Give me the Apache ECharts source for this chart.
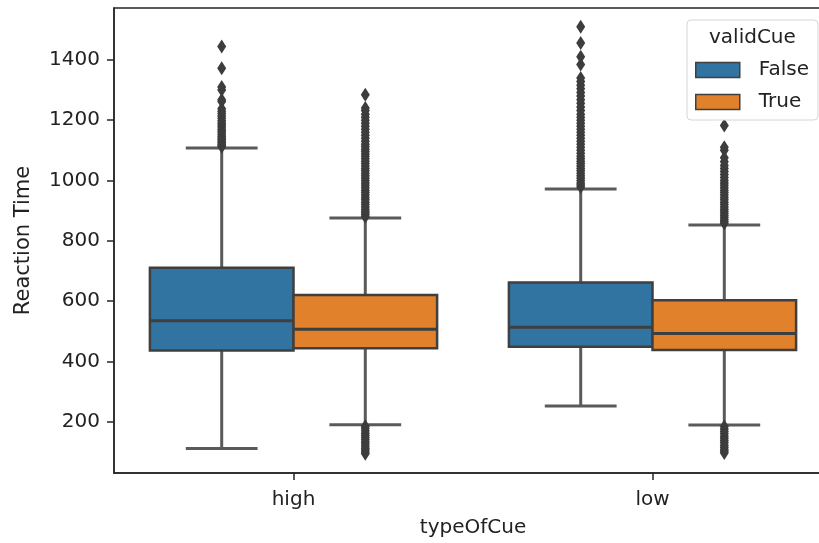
<!DOCTYPE html>
<html><head><meta charset="utf-8">
<script src="https://cdn.jsdelivr.net/npm/echarts@6/dist/echarts.min.js"></script>
<style>html,body{margin:0;padding:0;background:#fff}#c{width:819px;height:543px}</style>
</head><body><div id="c"></div>
<script>
const categories = ['high', 'low'];
const hueNames = ['False', 'True'];
const yTicks = [200, 400, 600, 800, 1000, 1200, 1400];
// [lower whisker, Q1, median, Q3, upper whisker] per category
const falseBoxes = [[111, 436, 535, 711, 1108], [252, 449, 513, 662, 972]];
const trueBoxes = [[190, 444, 507, 620, 876], [189, 438, 493, 603, 852]];
// outliers per category
const falseOutliers = [
  [1112, 1116, 1120, 1125, 1130, 1135, 1140, 1146, 1152, 1158, 1164, 1170, 1177, 1184, 1191, 1198, 1206, 1214, 1222, 1230, 1238, 1262, 1268, 1300, 1310, 1372, 1444],
  [978, 985, 992, 1000, 1008, 1016, 1024, 1032, 1040, 1048, 1056, 1064, 1072, 1080, 1090, 1100, 1110, 1120, 1130, 1140, 1150, 1160, 1170, 1180, 1190, 1200, 1210, 1220, 1232, 1244, 1256, 1268, 1280, 1292, 1304, 1316, 1328, 1340, 1385, 1410, 1456, 1510]
];
const trueOutliers = [
  [880, 886, 892, 898, 905, 912, 920, 928, 936, 944, 952, 960, 968, 976, 984, 992, 1000, 1008, 1016, 1024, 1032, 1040, 1048, 1056, 1064, 1072, 1080, 1088, 1096, 1104, 1112, 1120, 1130, 1140, 1150, 1160, 1170, 1180, 1190, 1200, 1210, 1220, 1232, 1240, 1284,
   185, 178, 170, 162, 155, 148, 140, 133, 126, 119, 112, 106, 100, 94],
  [858, 864, 870, 877, 884, 891, 898, 905, 912, 920, 928, 936, 944, 952, 960, 968, 976, 984, 992, 1000, 1010, 1020, 1030, 1040, 1050, 1062, 1075, 1100, 1110, 1182,
   184, 176, 168, 160, 152, 145, 138, 130, 122, 115, 108, 102, 96]
];

const COLORS = ['#3274a1', '#e1812c'];
const EDGE = '#3f3f3f';
const WHISK = '#5a5a5a';
const FONT = 'DejaVu Sans';
const TXT = '#222';
const GROUP_W = 0.8;
const BOX_W = GROUP_W / hueNames.length;
const hueOffset = h => -GROUP_W / 2 + BOX_W * (h + 0.5);

const boxSets = [falseBoxes, trueBoxes];
const outSets = [falseOutliers, trueOutliers];

function renderBox(params, api) {
  const x = api.value(0);
  const w = api.size([BOX_W, 0])[0];
  const pLw = api.coord([x, api.value(1)]);
  const pQ1 = api.coord([x, api.value(2)]);
  const pMed = api.coord([x, api.value(3)]);
  const pQ3 = api.coord([x, api.value(4)]);
  const pUw = api.coord([x, api.value(5)]);
  const cx = pMed[0];
  const fill = api.visual('color');
  const lw = 2.5, wl = 3;
  return {
    type: 'group',
    children: [
      { type: 'line', shape: { x1: cx, y1: pLw[1], x2: cx, y2: pQ1[1] }, style: { stroke: WHISK, lineWidth: wl } },
      { type: 'line', shape: { x1: cx, y1: pQ3[1], x2: cx, y2: pUw[1] }, style: { stroke: WHISK, lineWidth: wl } },
      { type: 'line', shape: { x1: cx - w / 4, y1: pLw[1], x2: cx + w / 4, y2: pLw[1] }, style: { stroke: WHISK, lineWidth: wl } },
      { type: 'line', shape: { x1: cx - w / 4, y1: pUw[1], x2: cx + w / 4, y2: pUw[1] }, style: { stroke: WHISK, lineWidth: wl } },
      { type: 'rect', shape: { x: cx - w / 2, y: pQ3[1], width: w, height: pQ1[1] - pQ3[1] }, style: { fill: fill, stroke: EDGE, lineWidth: lw } },
      { type: 'line', shape: { x1: cx - w / 2, y1: pMed[1], x2: cx + w / 2, y2: pMed[1] }, style: { stroke: EDGE, lineWidth: lw + 0.5 } }
    ]
  };
}

const series = [];
hueNames.forEach((name, h) => {
  series.push({
    name: name,
    type: 'custom',
    xAxisIndex: 1,
    yAxisIndex: 0,
    renderItem: renderBox,
    itemStyle: { color: COLORS[h], borderColor: EDGE, borderWidth: 1.5 },
    dimensions: ['x', 'lw', 'q1', 'med', 'q3', 'uw'],
    encode: { x: 0, y: [1, 2, 3, 4, 5] },
    data: boxSets[h].map((b, i) => [i + hueOffset(h)].concat(b)),
    z: 2
  });
});
hueNames.forEach((name, h) => {
  const pts = [];
  outSets[h].forEach((vals, i) => vals.forEach(v => pts.push([i + hueOffset(h), v])));
  series.push({
    name: name + ' outliers',
    type: 'scatter',
    xAxisIndex: 1,
    yAxisIndex: 0,
    symbol: 'diamond',
    symbolSize: [9, 14],
    itemStyle: { color: '#3d3d3d', opacity: 1 },
    data: pts,
    z: 3
  });
});

const chart = echarts.init(document.getElementById('c'), null, { renderer: 'canvas' });
chart.setOption({
  animation: false,
  backgroundColor: '#fff',
  textStyle: { fontFamily: FONT },
  grid: { left: 114, width: 718, top: 8, bottom: 70, outerBoundsMode: 'none', containLabel: false, show: true, borderColor: '#262626', borderWidth: 1.5, backgroundColor: 'transparent' },
  title: {
    text: 'validCue', left: 709, top: 28, padding: 0,
    textStyle: { fontFamily: FONT, fontSize: 20, fontWeight: 'normal', color: TXT }
  },
  legend: {
    orient: 'vertical', left: 687, top: 20,
    padding: [40, 9, 8, 8],
    backgroundColor: '#fff', borderColor: '#d6d6d6', borderWidth: 1, borderRadius: 4,
    itemWidth: 44, itemHeight: 15, itemGap: 12,
    data: hueNames.map(n => ({ name: n, icon: 'rect' })),
    itemStyle: { borderColor: EDGE, borderWidth: 1.5 },
    textStyle: { fontFamily: FONT, fontSize: 20, color: TXT, padding: [0, 0, 0, 14] },
    selectedMode: false
  },
  xAxis: [
    {
      type: 'category', data: categories, boundaryGap: true,
      name: 'typeOfCue', nameLocation: 'middle', nameGap: 45,
      nameTextStyle: { fontFamily: FONT, fontSize: 20, color: TXT },
      axisLine: { show: true, onZero: false, lineStyle: { color: '#262626', width: 1.5 } },
      axisTick: { show: true, alignWithLabel: true, length: 7, lineStyle: { color: '#262626', width: 1.5 } },
      axisLabel: { fontFamily: FONT, fontSize: 20, color: TXT, margin: 17 },
      splitLine: { show: false }
    },
    { type: 'value', min: -0.5, max: 1.5, show: false, splitLine: { show: false } }
  ],
  yAxis: {
    type: 'value', min: 30, max: 1572,
    name: 'Reaction Time', nameLocation: 'middle', nameGap: 80,
    nameTextStyle: { fontFamily: FONT, fontSize: 21, color: TXT },
    axisLine: { show: true, onZero: false, lineStyle: { color: '#262626', width: 1.5 } },
    axisTick: { show: true, length: 7, customValues: yTicks, lineStyle: { color: '#262626', width: 1.5 } },
    axisLabel: { fontFamily: FONT, fontSize: 20, color: TXT, margin: 14, customValues: yTicks, formatter: v => String(v) },
    splitLine: { show: false }
  },
  series: series
});
</script>
</body></html>
